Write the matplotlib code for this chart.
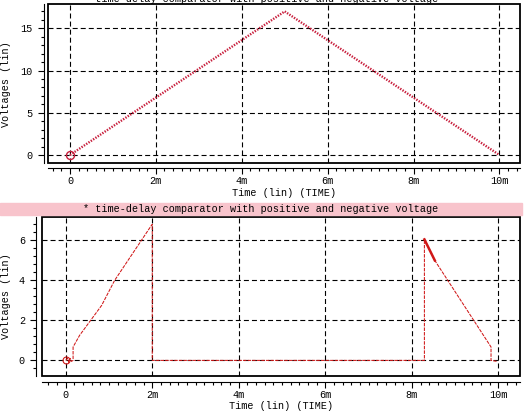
import numpy as np
import matplotlib
matplotlib.use("Agg")
import matplotlib.pyplot as plt
from matplotlib.patches import Rectangle
from matplotlib.ticker import MultipleLocator, FuncFormatter

plt.rcParams['font.family'] = ['Liberation Mono', 'DejaVu Sans Mono']
plt.rcParams['font.size'] = 7.3
plt.rcParams['lines.scale_dashes'] = False

title = "* time-delay comparator with positive and negative voltage"
xlabel = "Time (lin) (TIME)"
ylabel = "Voltages (lin)"

# top panel: triangle wave (seconds, volts)
t_top = [0.0, 5.0e-3, 10.0e-3]
v_top = [0.0, 17.0, 0.0]

# bottom panel: comparator output
t_bot = [0.0, 0.04e-3, 0.07e-3, 0.10e-3, 0.13e-3, 0.17e-3, 0.17e-3, 0.32e-3,
         0.83e-3, 1.13e-3, 1.98e-3, 2.0e-3, 2.0e-3, 8.29e-3, 8.29e-3,
         8.53e-3, 9.83e-3, 9.83e-3, 9.97e-3]
v_bot = [0.0, 0.12, -0.10, 0.10, -0.05, 0.0, 0.67, 1.25,
         2.75, 4.0, 6.75, 6.8, 0.0, 0.0, 6.05,
         5.0, 0.67, 0.0, -0.05]

top_yticks = [0, 5, 10, 15]
bot_yticks = [0, 2, 4, 6]
xticks = [0, 2e-3, 4e-3, 6e-3, 8e-3, 10e-3]


def fmt_time(v, pos):
    ms = int(round(v * 1e3))
    return "0" if ms == 0 else f"{ms}m"


def style_axes(ax, yticks, ymin_step, spine_off_l, spine_off_b, ylab_x):
    ax.set_xticks(xticks)
    ax.set_yticks(yticks)
    ax.xaxis.set_minor_locator(MultipleLocator(0.2e-3))
    ax.yaxis.set_minor_locator(MultipleLocator(ymin_step))
    ax.xaxis.set_major_formatter(FuncFormatter(fmt_time))
    ax.grid(True, which='major', color='black', lw=0.8, linestyle=(0, (3.6, 2.2)))
    for s in ['top', 'right']:
        ax.spines[s].set_visible(False)
    ax.spines['left'].set_position(('outward', spine_off_l))
    ax.spines['bottom'].set_position(('outward', spine_off_b))
    ax.spines['left'].set_linewidth(0.8)
    ax.spines['bottom'].set_linewidth(0.8)
    ax.add_patch(Rectangle((0, 0), 1, 1, transform=ax.transAxes, fill=False,
                           lw=1.3, ec='black', clip_on=False, zorder=5))
    ax.tick_params(which='major', length=4, width=0.8, direction='out')
    ax.tick_params(which='minor', length=2.2, width=0.8, direction='out')
    ax.tick_params(axis='x', pad=2)
    ax.tick_params(axis='y', pad=4)
    ax.set_xlabel(xlabel)
    ax.set_ylabel(ylabel)
    ax.xaxis.set_label_coords(0.5, -0.19)
    ax.xaxis.label.set_va('center')
    ax.yaxis.set_label_coords(ylab_x, 0.5)
    ax.yaxis.label.set_va('center')
    ax.set_axisbelow(True)


fig = plt.figure(figsize=(5.24, 4.15), dpi=100)

# top panel
ax1 = fig.add_axes([0.0916, 0.6072, 0.9008, 0.3824])
ax1.plot(t_top, v_top, color='#c81e3c', lw=1.7, linestyle=(0, (1.0, 1.0)),
         marker='o', markevery=[0], ms=5.8, mfc='none', mec='#c81e3c', mew=1.0)
ax1.set_xlim(-0.512e-3, 10.48e-3)
ax1.set_ylim(-0.947, 17.84)
style_axes(ax1, top_yticks, 1, 2.9, 3.6, -0.089)

# bottom panel
ax2 = fig.add_axes([0.0802, 0.0940, 0.9122, 0.3831])
ax2.plot(t_bot, v_bot, color='#d01818', lw=0.75, linestyle=(0, (2.5, 0.8)),
         marker='o', markevery=[0], ms=5, mfc='none', mec='#d01818', mew=0.8)
ax2.plot(t_bot[14:16], v_bot[14:16], color='#d01818', lw=1.8)
ax2.set_xlim(-0.548e-3, 10.5e-3)
ax2.set_ylim(-0.78, 7.17)
style_axes(ax2, bot_yticks, 0.4, 4.3, 4.3, -0.075)

# titles
fig.patches.append(Rectangle((0, 1 - 215 / 415), 522 / 524, 12 / 415,
                             transform=fig.transFigure, color='#f8c4cc', zorder=0))
fig.text(0.497, 1 - 209 / 415, title, ha='center', va='center')
fig.text(0.497, 1 + 1.5 / 415, title, ha='center', va='center')

fig.savefig("out.png", dpi=100)
